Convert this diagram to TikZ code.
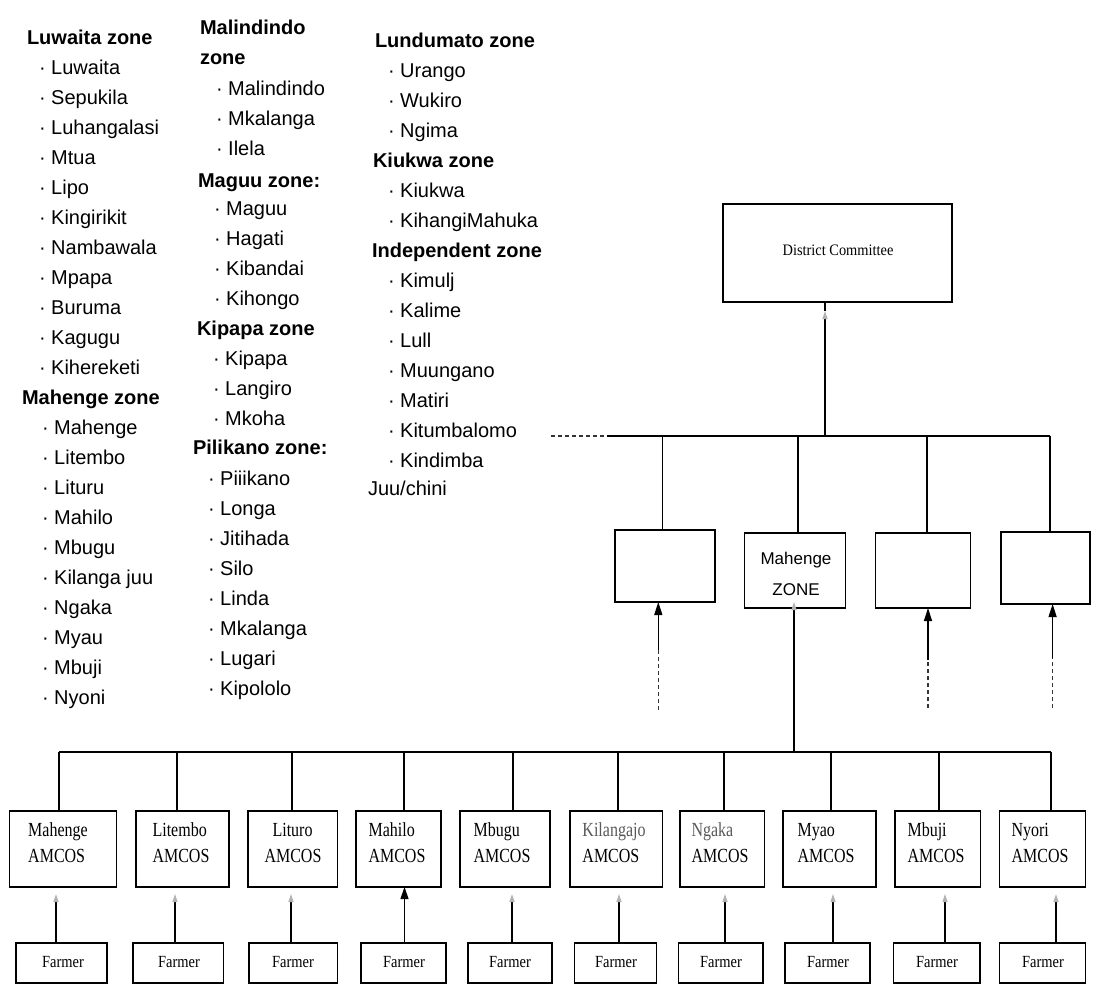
\documentclass[tikz,border=0pt]{standalone}
\usepackage{fontspec}
\setmainfont{Liberation Serif}
\newfontfamily\listfont{Liberation Sans}
\newfontfamily\boxfont{Liberation Serif}
\usetikzlibrary{arrows.meta}

% two-line label inside an AMCOS box, slightly condensed
\newcommand\amcos[1]{\scalebox{0.8}[1]{\begin{tabular}{@{}l@{}}#1\\AMCOS\end{tabular}}}

\tikzset{
  every node/.style={inner sep=0pt, outer sep=0pt},
  head/.style={anchor=base west, font=\listfont\bfseries\fontsize{20bp}{24bp}\selectfont},
  item/.style={anchor=base west, font=\listfont\fontsize{20bp}{24bp}\selectfont},
  box/.style={draw, line width=1.4bp},
  serifsmall/.style={font=\boxfont\fontsize{16bp}{20bp}\selectfont},
  amtext/.style={font=\boxfont\fontsize{20bp}{26bp}\selectfont},
  farmtext/.style={font=\boxfont\fontsize{17bp}{20bp}\selectfont},
  zonetext/.style={font=\listfont\fontsize{17bp}{31bp}\selectfont, align=center},
  link/.style={line width=1.2bp},
  dashlink/.style={line width=1.2bp, dash pattern=on 4bp off 3bp, black!80},
  uparrow/.style={line width=1.3bp, -{Triangle[width=8bp,length=13bp]}},
  faintup/.style={line width=1.2bp, -{Triangle[width=5bp,length=8bp,color=black!30]}},
}

\begin{document}
\begin{tikzpicture}[x=1bp,y=-1bp]
\useasboundingbox (0,0) rectangle (1097,994);
\fill[white] (0,0) rectangle (1097,994);

% ---------------- zone lists ----------------
\node[head] (hLuw) at (27,44) {Luwaita zone};
\foreach \t [count=\i] in {Luwaita,Sepukila,Luhangalasi,Mtua,Lipo,Kingirikit,Nambawala,Mpapa,Buruma,Kagugu,Kihereketi}
  \node[item] (luw\i) at (39,{74+30*(\i-1)}) {· \t};
\node[head] (hMah) at (22,404) {Mahenge zone};
\foreach \t [count=\i] in {Mahenge,Litembo,Lituru,Mahilo,Mbugu,Kilanga juu,Ngaka,Myau,Mbuji,Nyoni}
  \node[item] (mah\i) at (42,{434+30*(\i-1)}) {· \t};

\node[head] (hMal) at (200,34) {Malindindo};
\node[head] (hMal2) at (200,64) {zone};
\foreach \t [count=\i] in {Malindindo,Mkalanga,Ilela}
  \node[item] (mal\i) at (216,{95+30*(\i-1)}) {· \t};
\node[head] (hMag) at (198,187) {Maguu zone:};
\foreach \t [count=\i] in {Maguu,Hagati,Kibandai,Kihongo}
  \node[item] (mag\i) at (214,{215+30*(\i-1)}) {· \t};
\node[head] (hKip) at (197,335) {Kipapa zone};
\foreach \t [count=\i] in {Kipapa,Langiro,Mkoha}
  \node[item] (kip\i) at (213,{365+30*(\i-1)}) {· \t};
\node[head] (hPil) at (193,454) {Pilikano zone:};
\foreach \t [count=\i] in {Piiikano,Longa,Jitihada,Silo,Linda,Mkalanga,Lugari,Kipololo}
  \node[item] (pil\i) at (208,{485+30*(\i-1)}) {· \t};

\node[head] (hLun) at (375,47) {Lundumato zone};
\foreach \t [count=\i] in {Urango,Wukiro,Ngima}
  \node[item] (lun\i) at (388,{77+30*(\i-1)}) {· \t};
\node[head] (hKiu) at (373,167) {Kiukwa zone};
\foreach \t [count=\i] in {Kiukwa,KihangiMahuka}
  \node[item] (kiu\i) at (388,{197+30*(\i-1)}) {· \t};
\node[head] (hInd) at (372,257) {Independent zone};
\foreach \t [count=\i] in {Kimulj,Kalime,Lull,Muungano,Matiri,Kitumbalomo,Kindimba}
  \node[item] (ind\i) at (388,{287+30*(\i-1)}) {· \t};
\node[item] (juu) at (368,495) {Juu/chini};

% ---------------- district committee ----------------
\node[box, minimum width=229bp, minimum height=98bp] (dc) at (837.4,253) {};
\node[serifsmall] (dct) at (838,250) {\scalebox{0.9}[1]{District Committee}};

% ---------------- zone level ----------------
\node[box, minimum width=100bp, minimum height=72bp] (z1) at (664.8,566) {};
\node[box, minimum width=101bp, minimum height=75bp] (z2) at (794.8,570.5) {};
\node[box, minimum width=95bp,  minimum height=75bp] (z3) at (923.1,570.5) {};
\node[box, minimum width=89bp,  minimum height=72bp] (z4) at (1045.5,568) {};
\node[zonetext] (z2t) at (796,574) {Mahenge\\ZONE};

% upper bus and links to the committee
\coordinate (ubL) at (551,436);
\coordinate (ubD) at (607,436);
\coordinate (ubC) at (825,436);
\coordinate (ub1) at (662.6,436);
\coordinate (ub2) at (798,436);
\coordinate (ub3) at (927,436);
\coordinate (ub4) at (1050,436);
\coordinate (dcA) at (825,311);
\draw[dashlink] (ubL) -- (ubD);
\draw[link] (ubD) -- (ub4);
\draw[faintup] (ubC) -- (dcA);
\draw[link] (dcA) -- (ubC |- dc.south);
\foreach \i in {1,...,4} \draw[link] (ub\i) -- (ub\i |- z\i.north);

% inflows into the zones
\coordinate (q1) at (658.3,710); \coordinate (s1) at (658.3,650);
\coordinate (q3) at (928,708);   \coordinate (s3) at (928,660);
\coordinate (q4) at (1052.6,708);\coordinate (s4) at (1052.6,658);
\foreach \i in {1,3,4} {
  \draw[dashlink] (q\i) -- (s\i);
  \draw[uparrow] (s\i) -- (s\i |- z\i.south);
}

% ---------------- AMCOS level ----------------
\foreach \c/\w [count=\i] in {63/107,182.5/93,292.8/89.5,398.5/85,505/90,616.3/92.5,722.3/84.5,829.5/93,937.8/85.5,1042.5/86}
  \node[box, minimum width=\w bp, minimum height=76bp] (a\i) at (\c,849) {};

\node[amtext] (at1) at (58,844) {\amcos{Mahenge}};
\node[amtext] (at2) at (181,844) {\amcos{Litembo}};
\node[amtext] (at3) at (293,844) {\amcos{\hspace*{10bp}Lituro}};
\node[amtext] (at4) at (397,844) {\amcos{Mahilo}};
\node[amtext] (at5) at (502,844) {\amcos{Mbugu}};
\node[amtext] (at6) at (614,844) {\amcos{\textcolor{black!65}{Kilangajo}}};
\node[amtext] (at7) at (720,844) {\amcos{\textcolor{black!65}{Ngaka}}};
\node[amtext] (at8) at (826,844) {\amcos{Myao}};
\node[amtext] (at9) at (936,844) {\amcos{Mbuji}};
\node[amtext] (at10) at (1040,844) {\amcos{Nyori}};

% lower bus from the zone down to the AMCOS
\foreach \x [count=\i] in {59,177,292,404,513,618,724,831,939,1051}
  \coordinate (b\i) at (\x,752);
\coordinate (bm) at (794,752);
\draw[link] (b1) -- (b10);
\foreach \i in {1,...,10} \draw[link] (b\i) -- (b\i |- a\i.north);
\draw[faintup] (bm) -- ([yshift=6bp]bm |- z2.south);

% ---------------- farmers ----------------
\foreach \c/\w [count=\i] in {61.5/91,178.3/90.5,293.3/88.5,403.5/85,510/84,615.5/82,720.8/84.5,827.5/85,936.8/86.5,1042.5/86}
  \node[box, minimum width=\w bp, minimum height=40bp] (f\i) at (\c,963) {};
\foreach \c [count=\i] in {63,179,293,404,510,616,721,828,937,1043}
  \node[farmtext] (ft\i) at (\c,962) {\scalebox{0.85}[1]{Farmer}};

\foreach \x [count=\i] in {56,175,291,404.5,512,619,725,833,945,1056}
  \coordinate (t\i) at (\x,894);
\foreach \i in {1,2,3,5,6,7,8,9,10}
  \draw[faintup] (t\i |- f\i.north) -- (t\i);
\draw[line width=1.2bp, -{Triangle[width=8bp,length=12bp]}] (t4 |- f4.north) -- (t4 |- a4.south);
\end{tikzpicture}
\end{document}
